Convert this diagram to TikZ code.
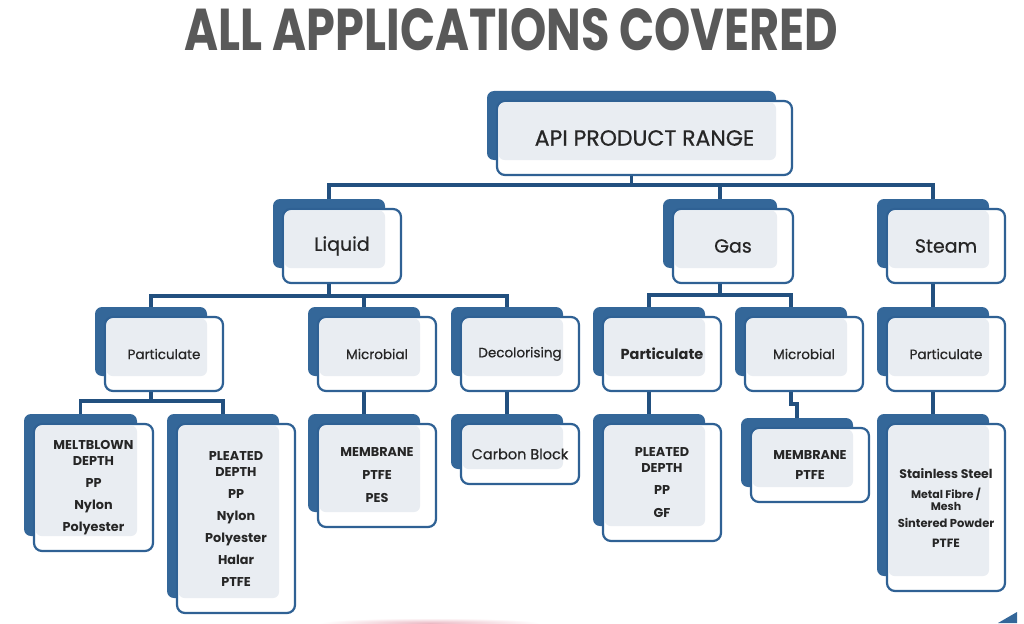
\documentclass[tikz,border=0pt]{standalone}
\usepackage{fontspec}
\setmainfont{Poppins}
\newfontfamily\medfont{Poppins}[FakeBold=0.6]
\usepackage{graphicx}
\pgfdeclarelayer{bg}
\pgfsetlayers{bg,main}
\definecolor{backc}{HTML}{346799}
\definecolor{framec}{HTML}{2F6194}
\definecolor{connc}{HTML}{22507F}
\definecolor{lightc}{HTML}{E9EDF2}
\definecolor{txtc}{HTML}{262626}
\definecolor{titlec}{HTML}{595959}
\tikzset{
  backbox/.style={fill=backc, rounded corners=7},
  frontbox/.style={draw=framec, line width=2.2, fill=white, rounded corners=8},
  lightbox/.style={fill=lightc, rounded corners=6},
  lbl/.style={inner sep=0, outer sep=0, align=center, text=txtc},
  lone/.style={lbl, font=\medfont\fontsize{22}{26}\selectfont},
  lonesmall/.style={lbl, font=\medfont\fontsize{19}{22}\selectfont},
  ltwo/.style={lbl, font=\medfont\fontsize{13.5}{16}\selectfont},
  lcarb/.style={lbl, font=\medfont\fontsize{14.5}{16}\selectfont},
  ltwob/.style={lbl, font=\fontsize{14.5}{16}\selectfont\bfseries},
  lthree/.style={lbl, font=\fontsize{12.8}{16}\selectfont\bfseries},
  conn/.style={draw=connc, line width=3.6},
}
% name, x1, y1, x2, y2 (back rectangle), style, text
\newcommand\abox[7]{%
  \path[backbox] (#2,#3) rectangle (#4,#5);
  \coordinate (#1-b) at ({(#2+#4)/2},#3);
  \path[frontbox] ({#2+10},{#3+10}) rectangle ({#4+16},{#5+15});
  \path[lightbox] ({#2+11.5},{#3+11.5}) rectangle (#4,#5);
  \node[#6, minimum width={#4-#2+6}, minimum height={#5-#3+5}] (#1)
    at ({(#2+#4)/2+13},{(#3+#5)/2+12.5}) {#7};
}
\begin{document}
\begin{tikzpicture}[x=1pt, y=-1pt]
\useasboundingbox (0,0) rectangle (1024,623);
% title
\node[inner sep=0, text=titlec] (title) at (511.5,29.5)
  {\resizebox{653pt}{42pt}{\bfseries ALL APPLICATIONS COVERED}};
% level 0
\abox{top}{487}{91}{776}{160}{lone}{API PRODUCT RANGE}
% level 1
\abox{liq}{273}{199}{385}{268}{lonesmall}{Liquid}
\abox{gas}{663}{199}{777}{268}{lonesmall}{Gas}
\abox{stm}{877}{199}{989}{268}{lonesmall}{Steam}
% level 2
\abox{lpart}{95}{307}{207}{376}{ltwo}{Particulate}
\abox{lmic}{308}{307}{420}{376}{ltwo}{Microbial}
\abox{ldec}{451}{307}{563}{376}{ltwo}{Decolorising}
\abox{gpart}{593}{307}{705}{376}{ltwob}{Particulate}
\abox{gmic}{735}{307}{847}{376}{ltwo}{Microbial}
\abox{spart}{877}{307}{989}{376}{ltwo}{Particulate}
% level 3
\abox{melt}{24}{414}{137}{536}{lthree}{MELTBLOWN\\DEPTH\\[6pt]PP\\[6pt]Nylon\\[6pt]Polyester}
\abox{lpleat}{167}{414}{279}{598}{lthree}{PLEATED\\DEPTH\\[6pt]PP\\[6pt]Nylon\\[6pt]Polyester\\[6pt]Halar\\[6pt]PTFE}
\abox{lmem}{308}{414}{420}{512}{lthree}{MEMBRANE\\[7pt]PTFE\\[7pt]PES}
\abox{carbon}{451}{414}{563}{469}{lcarb}{Carbon Block}
\abox{gpleat}{593}{414}{705}{526}{lthree}{PLEATED\\DEPTH\\[6pt]PP\\[7pt]GF}
\abox{gmem}{741}{418}{853}{487}{lthree}{MEMBRANE\\[4pt]PTFE}
\abox{steel}{877}{414}{989}{576}{lbl}{{\fontsize{12.5}{13}\selectfont\bfseries Stainless Steel}\\[8pt]{\fontsize{11}{13}\selectfont\bfseries Metal Fibre /}\\{\fontsize{11}{13}\selectfont\bfseries Mesh}\\[5pt]{\fontsize{11.5}{13}\selectfont\bfseries Sintered Powder}\\[8pt]{\fontsize{12}{13}\selectfont\bfseries PTFE}}
% connectors
\coordinate (bar0) at (0,185);
\coordinate (barliq) at (0,296);
\coordinate (bargas) at (0,295);
\coordinate (barlpart) at (0,401);
\begin{pgfonlayer}{bg}
\foreach \c in {liq,gas,stm}
  \draw[conn] (top-b |- top.south) -- (top-b |- bar0) -| (\c-b);
\foreach \c in {lpart,lmic,ldec}
  \draw[conn] (liq-b |- liq.south) -- (liq-b |- barliq) -| (\c-b);
\foreach \c in {gpart,gmic}
  \draw[conn] (gas-b |- gas.south) -- (gas-b |- bargas) -| (\c-b);
\draw[conn] (stm-b |- stm.south) -- (spart-b);
\foreach \c in {melt,lpleat}
  \draw[conn] (lpart-b |- lpart.south) -- (lpart-b |- barlpart) -| (\c-b);
\draw[conn] (lmic-b |- lmic.south) -- (lmem-b);
\draw[conn] (ldec-b |- ldec.south) -- (carbon-b);
\draw[conn] (gpart-b |- gpart.south) -- (gpleat-b);
\draw[conn] (gmic-b |- gmic.south) -- ++(0,13) -| (gmem-b);
\draw[conn] (spart-b |- spart.south) -- (steel-b);
\end{pgfonlayer}
% bottom decorations
\shade[inner color={rgb,255:red,235;green,185;blue,196}, outer color=white] (430,623) ellipse (110 and 5);
\fill[backc] (998,623) -- (1017,612) -- (1017,623) -- cycle;
\end{tikzpicture}
\end{document}
